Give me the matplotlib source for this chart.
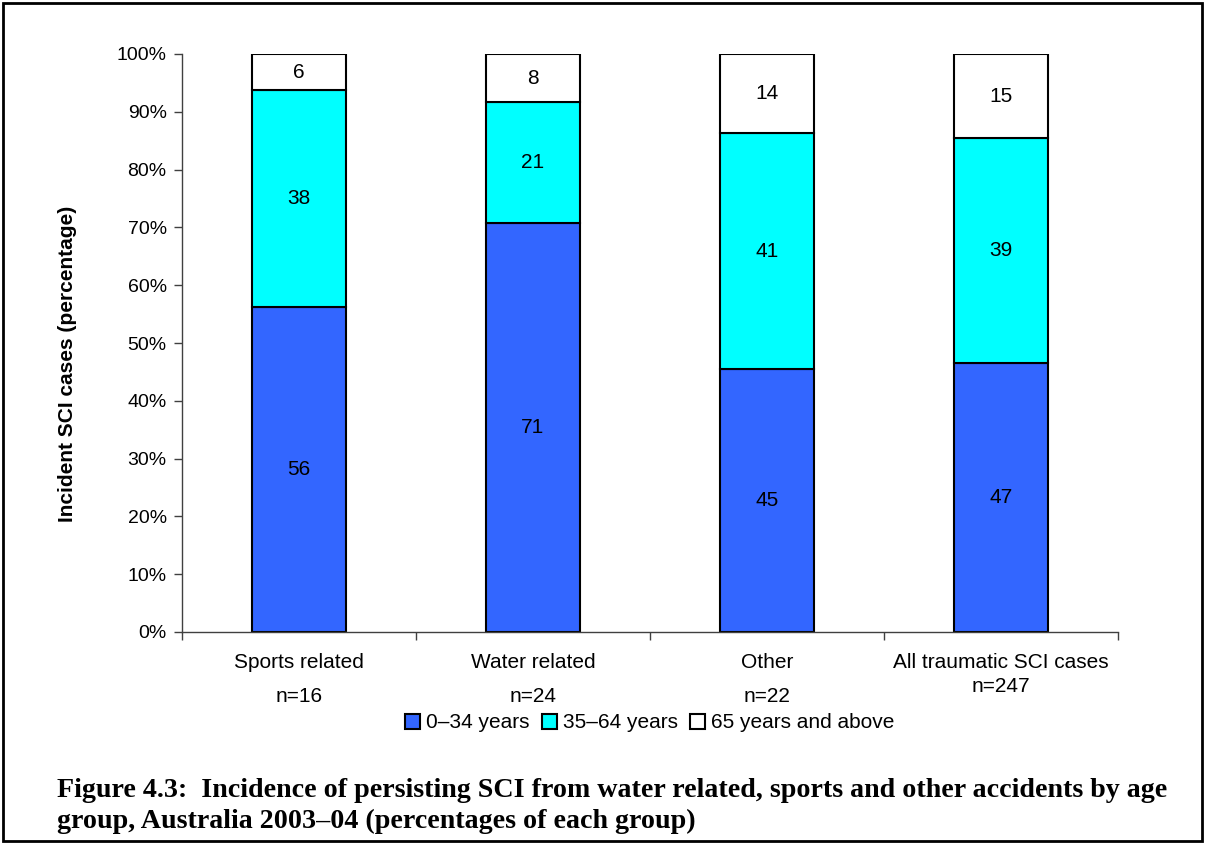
#!/usr/bin/env python3

import numpy as np
import matplotlib
matplotlib.use('Agg')
import matplotlib.pyplot as plt
from matplotlib.patches import Rectangle
from matplotlib.ticker import FuncFormatter

categories = ['Sports related', 'Water related', 'Other', 'All traumatic SCI cases']
n_labels = ['n=16', 'n=24', 'n=22', 'n=247']
age_groups = ['0\u201334 years', '35\u201364 years', '65 years and above']

# percentages of each group
pct_0_34 = [56.25, 70.83, 45.45, 46.56]
pct_35_64 = [37.50, 20.83, 40.91, 38.87]
pct_65_up = [6.25, 8.33, 13.64, 14.57]

colors = ['#3366FF', '#00FFFF', '#FFFFFF']

caption = ('Figure 4.3:  Incidence of persisting SCI from water related, sports and other accidents by age\n'
           'group, Australia 2003\u201304 (percentages of each group)')


def main():
    W, H = 1205, 844
    fig = plt.figure(figsize=(W / 100, H / 100), dpi=100)
    plt.rcParams['font.family'] = ['Liberation Sans', 'DejaVu Sans']

    ax = fig.add_axes([182 / W, 1 - 632 / H, 936 / W, 578 / H])
    x = np.arange(len(categories))
    bottom = np.zeros(len(categories))
    handles = []
    for vals, col, lab in zip([pct_0_34, pct_35_64, pct_65_up], colors, age_groups):
        vals = np.asarray(vals)
        bars = ax.bar(x, vals, 0.4, bottom=bottom, color=col, edgecolor='black',
                      linewidth=1.5, label=lab)
        for xi, b, v in zip(x, bottom, vals):
            ax.text(xi, b + v / 2, f'{v:.0f}', ha='center', va='center', fontsize=15)
        handles.append(bars)
        bottom += vals

    ax.set_xlim(-0.5, len(categories) - 0.5)
    ax.set_ylim(0, 100)
    ax.set_yticks(np.arange(0, 101, 10))
    ax.yaxis.set_major_formatter(FuncFormatter(lambda v, p: f'{v:.0f}%'))
    ax.tick_params(axis='y', labelsize=14, length=6, width=1, color='#404040', pad=5)
    ax.set_xticks(np.arange(-0.5, len(categories), 1.0))
    ax.set_xticklabels([])
    ax.tick_params(axis='x', length=6, width=1, color='#404040')
    for side in ['top', 'right']:
        ax.spines[side].set_visible(False)
    for side in ['left', 'bottom']:
        ax.spines[side].set_color('#404040')
        ax.spines[side].set_linewidth(1)

    # category labels and group sizes below the axis
    trans = ax.get_xaxis_transform()
    for xi, cat, nl in zip(x, categories, n_labels):
        ax.text(xi, -30 / 578, cat, ha='center', va='center', fontsize=15, transform=trans)
        ny = -65 / 578 if nl != 'n=247' else -54 / 578
        ax.text(xi, ny, nl, ha='center', va='center', fontsize=15, transform=trans)

    fig.text(68 / W, 1 - 364 / H, 'Incident SCI cases (percentage)', rotation=90,
             ha='center', va='center', fontsize=15, fontweight='bold')

    fig.legend(handles=handles, labels=age_groups, loc='center', ncol=3,
               bbox_to_anchor=(650 / W, 1 - 723 / H), frameon=False, fontsize=15,
               handlelength=0.7, handleheight=0.7, handletextpad=0.3, columnspacing=0.6,
               borderpad=0)

    fig.text(57 / W, 1 - 806 / H, caption, ha='left', va='center', fontsize=20.2,
             fontweight='bold', family=['Liberation Serif', 'DejaVu Serif'], linespacing=1.33)

    fig.patches.append(Rectangle((3 / W, 3 / H), 1 - 6 / W, 1 - 6 / H, transform=fig.transFigure,
                                 fill=False, edgecolor='black', linewidth=2))

    fig.savefig('out.png', dpi=100)


if __name__ == '__main__':
    main()
